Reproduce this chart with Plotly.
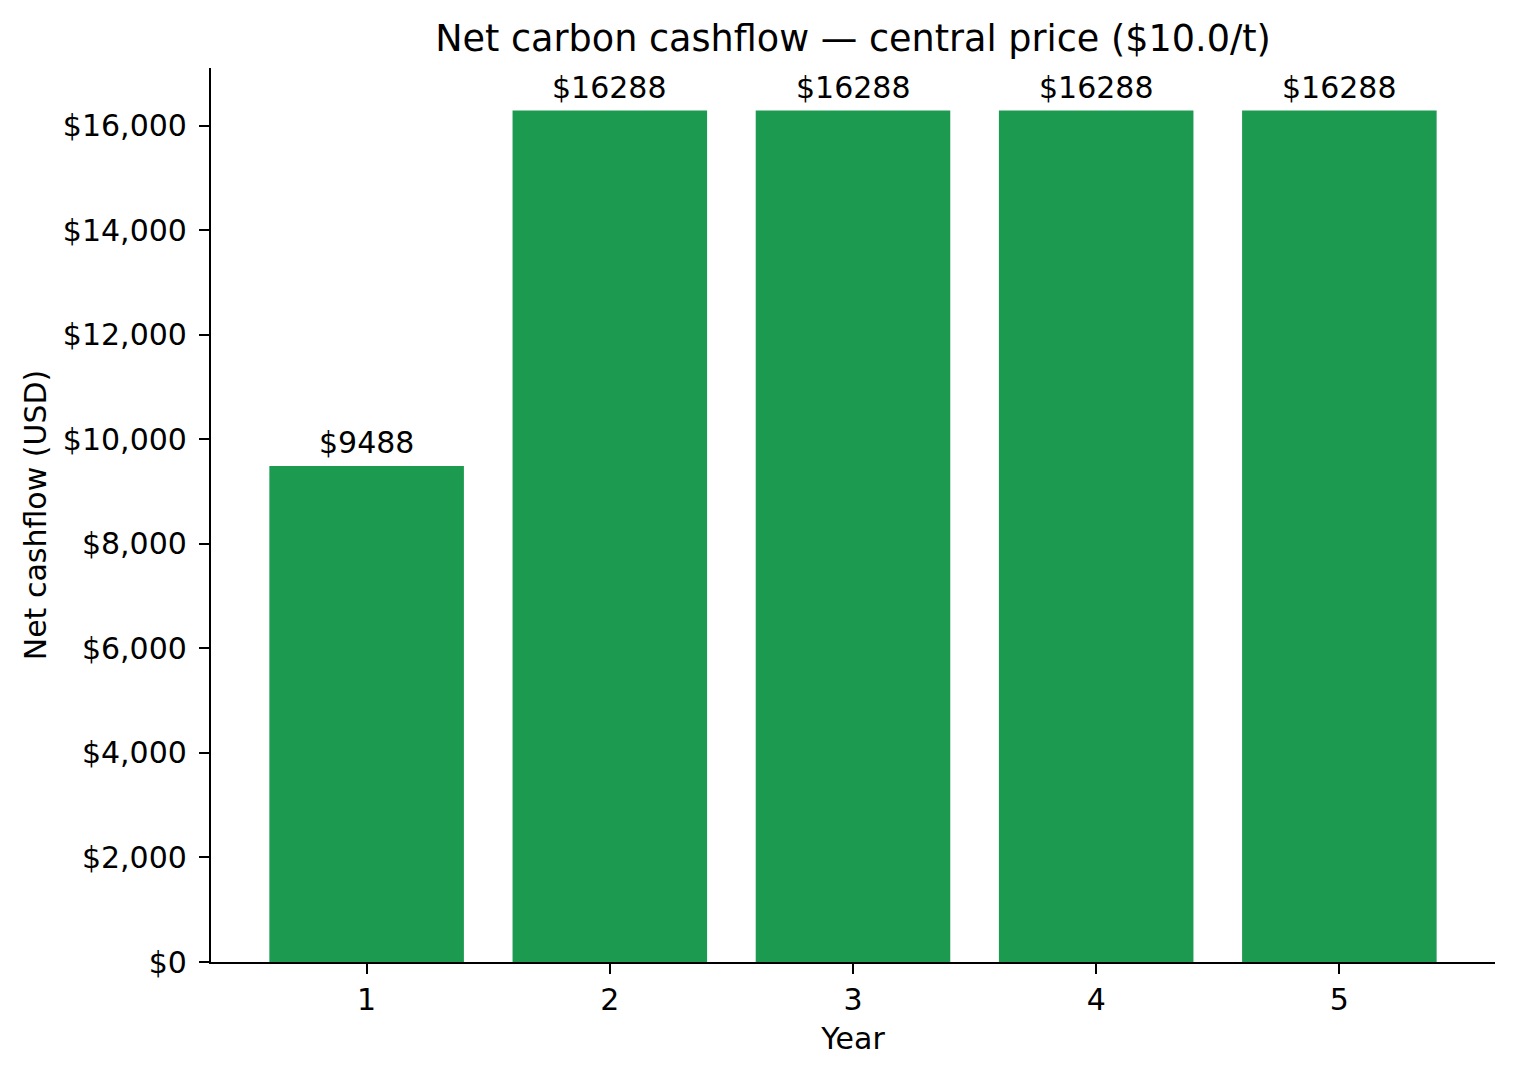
import plotly.graph_objects as go

years = [1, 2, 3, 4, 5]
net_cashflow = [9488, 16288, 16288, 16288, 16288]
y_ticks = [0, 2000, 4000, 6000, 8000, 10000, 12000, 14000, 16000]
bar_color = "#1c9a50"

# page body adds an 8px offset, so shrink the figure to keep the plot area in place
W, H = 1509, 1068

fig = go.Figure()
fig.add_trace(go.Bar(x=years, y=net_cashflow, width=0.8, marker=dict(color=bar_color, line=dict(width=0)),
                     hoverinfo="skip"))

# value labels above each bar
for yr, val in zip(years, net_cashflow):
    fig.add_annotation(x=yr, y=val, text=f"${val:.0f}", showarrow=False, yanchor="bottom",
                       yshift=4, font=dict(size=30, color="black"))

axis_common = dict(showline=True, linecolor="black", linewidth=2.2, ticks="outside", ticklen=10,
                   tickwidth=2.2, tickcolor="black", showgrid=False, zeroline=False,
                   tickfont=dict(size=30, color="black"), mirror=False)

fig.update_layout(
    width=W, height=H,
    margin=dict(l=203, r=22, t=60, b=114),
    plot_bgcolor="white", paper_bgcolor="white",
    font=dict(family="DejaVu Sans", color="black"),
    showlegend=False,
    title=dict(text="Net carbon cashflow — central price ($10.0/t)", x=0.5, xref="paper",
               y=1 - 30 / H, yanchor="middle", font=dict(size=36.6)),
    xaxis=dict(range=[0.36, 5.64], tickvals=years, title=dict(text="Year", font=dict(size=30), standoff=12),
               **axis_common),
    yaxis=dict(range=[0, 17102], tickvals=y_ticks, ticktext=[f"${v:,}" for v in y_ticks],
               ticklabelstandoff=6,
               title=dict(text="Net cashflow (USD)", font=dict(size=30), standoff=7), **axis_common),
)

fig.write_html("out.html")
